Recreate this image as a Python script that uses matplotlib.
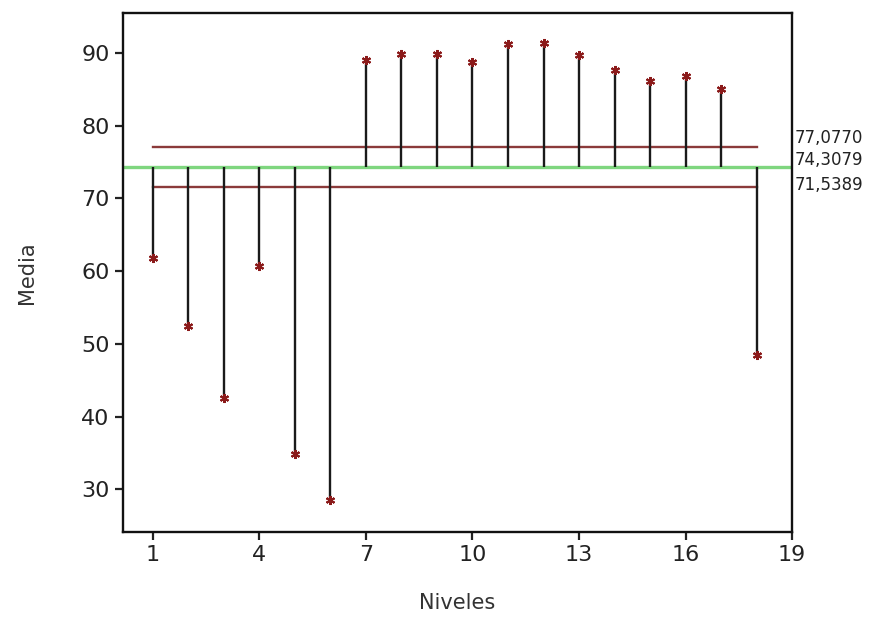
import numpy as np
import matplotlib
matplotlib.use('Agg')
import matplotlib.pyplot as plt
from matplotlib.transforms import blended_transform_factory

niveles = np.arange(1, 19)
medias = [61.8, 52.5, 42.5, 60.7, 34.9, 28.5, 89.0, 89.9, 89.8, 88.7, 91.3, 91.4,
          89.7, 87.7, 86.2, 86.8, 85.1, 48.5]
centro = 74.3079
lsd = 77.0770
lid = 71.5389
etiquetas = ['77,0770', '74,3079', '71,5389']
xticks = [1, 4, 7, 10, 13, 16, 19]
yticks = [30, 40, 50, 60, 70, 80, 90]

fig = plt.figure(figsize=(8.96, 6.21), dpi=100)
ax = fig.add_axes([0.137, 0.143, 0.747, 0.836])

# limites de decision (de 1 a 18) y linea central a todo lo ancho
ax.plot([1, 18], [lsd, lsd], color='#8b3a3a', lw=1.7, zorder=2)
ax.plot([1, 18], [lid, lid], color='#8b3a3a', lw=1.7, zorder=2)
ax.axhline(centro, color='#7fd67f', lw=2.4, zorder=1)

ax.vlines(niveles, centro, medias, color='#1a1a1a', lw=1.7, zorder=3)
ax.plot(niveles, medias, ls='none', marker=(6, 2, 0), ms=6.5, mew=1.5,
        color='#8b1a1a', zorder=4)

ax.set_xlim(0.15, 19)
ax.set_ylim(24.1, 95.5)
ax.set_xticks(xticks)
ax.set_yticks(yticks)
ax.tick_params(direction='out', length=6, width=1.6, labelsize=16, colors='#222222')
for s in ax.spines.values():
    s.set_linewidth(1.7)
    s.set_color('#111111')

ax.set_xlabel('Niveles', fontsize=15, color='#333333', labelpad=20)
ax.set_ylabel('Media', fontsize=15, color='#333333', labelpad=32)

tr = blended_transform_factory(ax.transAxes, ax.transData)
offs = [6.5, 5, 1.5]
for val, txt, dy in zip([lsd, centro, lid], etiquetas, offs):
    ax.annotate(txt, xy=(1.0, val), xycoords=tr, xytext=(2, dy),
                textcoords='offset points', va='center', ha='left',
                fontsize=12, color='#222222', annotation_clip=False)

fig.savefig('out.png', dpi=100)
